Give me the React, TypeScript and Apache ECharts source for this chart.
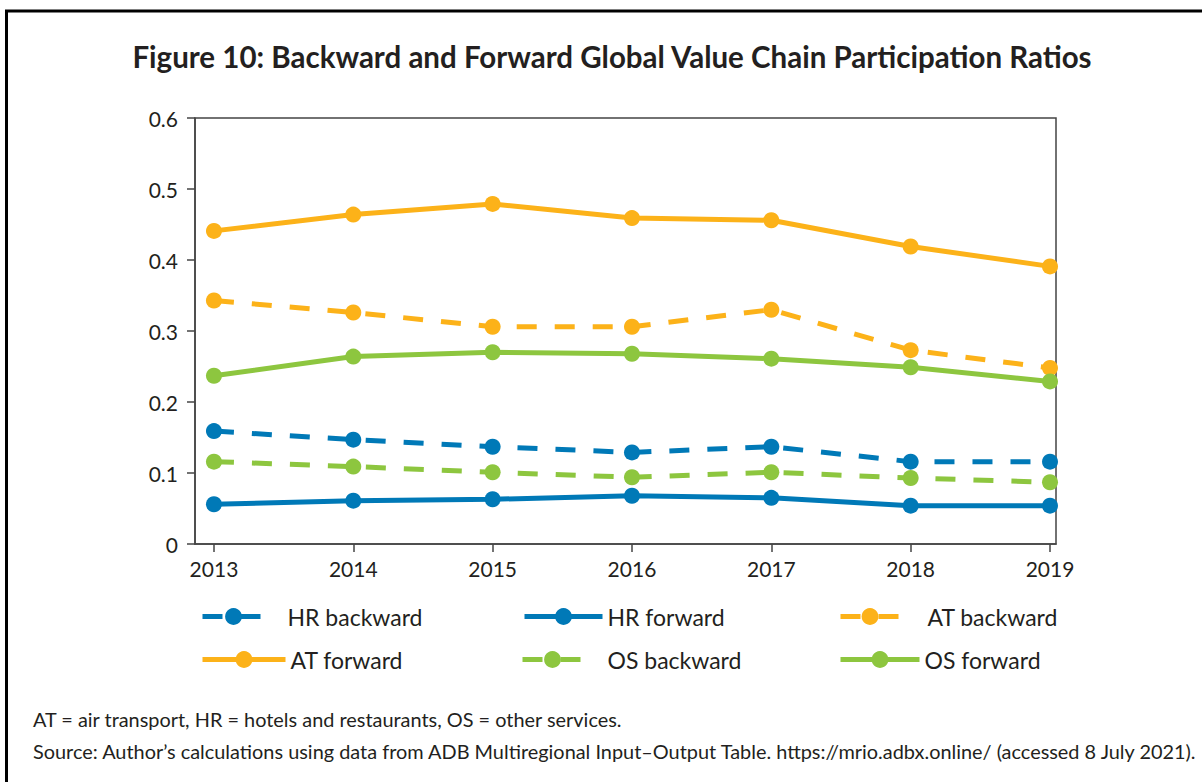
import React, { useEffect, useRef } from "react";
import * as echarts from "echarts";

const years = [2013, 2014, 2015, 2016, 2017, 2018, 2019];
const yTicks = [0, 0.1, 0.2, 0.3, 0.4, 0.5, 0.6];

const hrBackward = [0.159, 0.147, 0.137, 0.129, 0.137, 0.116, 0.116];
const hrForward = [0.056, 0.061, 0.063, 0.068, 0.065, 0.054, 0.054];
const atBackward = [0.343, 0.326, 0.306, 0.306, 0.33, 0.273, 0.248];
const atForward = [0.441, 0.464, 0.479, 0.459, 0.456, 0.419, 0.391];
const osBackward = [0.116, 0.109, 0.101, 0.094, 0.101, 0.093, 0.087];
const osForward = [0.237, 0.264, 0.27, 0.268, 0.261, 0.249, 0.229];

const BLUE = "#0079b7";
const ORANGE = "#fcb219";
const GREEN = "#8dc63f";
const FONT = "Lato";
const TEXT = "#231f20";

const seriesDefs = [
  { name: "HR backward", data: hrBackward, color: BLUE, dashed: true },
  { name: "HR forward", data: hrForward, color: BLUE, dashed: false },
  { name: "AT backward", data: atBackward, color: ORANGE, dashed: true },
  { name: "AT forward", data: atForward, color: ORANGE, dashed: false },
  { name: "OS backward", data: osBackward, color: GREEN, dashed: true },
  { name: "OS forward", data: osForward, color: GREEN, dashed: false },
];

const legendPos = [
  { left: 200, top: 605, w: 62, pad: 18 },
  { left: 522, top: 605, w: 78, pad: 0 },
  { left: 838, top: 605, w: 59, pad: 23 },
  { left: 200, top: 648, w: 83, pad: 0 },
  { left: 520, top: 648, w: 60, pad: 20 },
  { left: 838, top: 648, w: 79, pad: 0 },
];

export default function App() {
  const ref = useRef<HTMLDivElement>(null);
  useEffect(() => {
    if (!ref.current) return;
    const chart = echarts.init(ref.current, null, { renderer: "svg" });
    const option: any = {
      animation: false,
      backgroundColor: "#ffffff",
      textStyle: { fontFamily: FONT },
      grid: {
        left: 195,
        right: 146,
        top: 118,
        bottom: 238,
        show: true,
        borderColor: "#444",
        borderWidth: 1.5,
      },
      xAxis: {
        type: "value",
        min: 2012.864,
        max: 2019.043,
        axisLine: { show: true, lineStyle: { color: "#444", width: 1.5 } },
        axisTick: {
          show: true,
          customValues: years,
          length: 8,
          lineStyle: { color: "#444", width: 1.5 },
        },
        axisLabel: {
          customValues: years,
          formatter: (v: number) => String(Math.round(v)),
          color: TEXT,
          fontSize: 21,
          fontFamily: FONT,
          margin: 14,
        },
        splitLine: { show: false },
      },
      yAxis: {
        type: "value",
        min: 0,
        max: 0.6,
        interval: 0.1,
        axisLine: { show: true, lineStyle: { color: "#444", width: 1.5 } },
        axisTick: { show: true, length: 8, lineStyle: { color: "#444", width: 1.5 } },
        axisLabel: {
          formatter: (v: number) => {
            const t = yTicks.find((x) => Math.abs(x - v) < 1e-6);
            return t === 0 ? "0" : String(Number(v.toFixed(1)));
          },
          color: TEXT,
          fontSize: 21,
          fontFamily: FONT,
          margin: 17,
        },
        splitLine: { show: false },
      },
      legend: legendPos.map((p, i) => ({
        data: [seriesDefs[i].name],
        left: p.left,
        top: p.top,
        itemWidth: p.w,
        itemHeight: 21,
        padding: 0,
        lineStyle: { width: 5 },
        textStyle: {
          fontSize: 23,
          color: TEXT,
          fontFamily: FONT,
          padding: [0, 0, 0, p.pad],
        },
      })),
      series: seriesDefs.map((s) => ({
        name: s.name,
        type: "line",
        data: s.data.map((v, i) => [years[i], v]),
        symbol: "circle",
        symbolSize: 16,
        itemStyle: { color: s.color },
        lineStyle: {
          color: s.color,
          width: 5,
          type: s.dashed ? [20, 18] : "solid",
        },
      })),
      graphic: [
        {
          type: "line",
          shape: { x1: 5, y1: 11, x2: 1202, y2: 11 },
          style: { stroke: "#000", lineWidth: 3 },
        },
        {
          type: "line",
          shape: { x1: 6.5, y1: 10, x2: 6.5, y2: 782 },
          style: { stroke: "#000", lineWidth: 3 },
        },
        {
          type: "text",
          x: 612,
          y: 56,
          style: {
            text: "Figure 10: Backward and Forward Global Value Chain Participation Ratios",
            fontFamily: FONT,
            fontWeight: "bold",
            fontSize: 29.5,
            fill: TEXT,
            textAlign: "center",
            textVerticalAlign: "middle",
          },
        },
        {
          type: "text",
          x: 33,
          y: 719,
          style: {
            text: "AT = air transport, HR = hotels and restaurants, OS = other services.",
            fontFamily: FONT,
            fontSize: 19.9,
            fill: TEXT,
            textVerticalAlign: "middle",
          },
        },
        {
          type: "text",
          x: 33,
          y: 751,
          style: {
            text: "Source: Author\u2019s calculations using data from ADB Multiregional Input\u2013Output Table. https://mrio.adbx.online/ (accessed 8 July 2021).",
            fontFamily: FONT,
            fontSize: 19.9,
            fill: TEXT,
            textVerticalAlign: "middle",
          },
        },
      ],
    };
    chart.setOption(option);
    return () => chart.dispose();
  }, []);
  return (
    <div
      ref={ref}
      style={{ position: "fixed", left: 0, top: 0, width: 1202, height: 782 }}
    />
  );
}
